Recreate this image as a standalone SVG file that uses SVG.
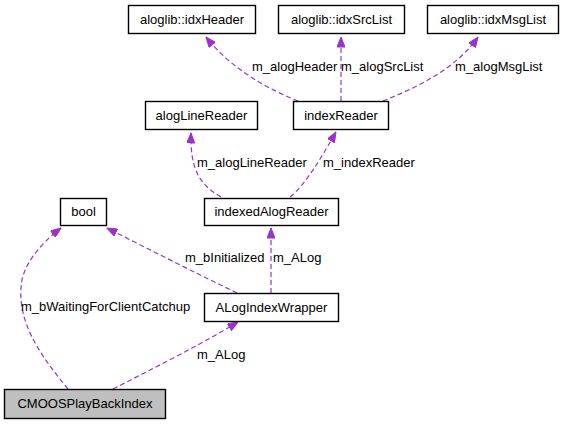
<svg xmlns="http://www.w3.org/2000/svg" width="564" height="424" viewBox="0 0 564 424">
<style>
.node rect{fill:#ffffff;stroke:#000000;stroke-width:1.4}
.node text{font-family:"Liberation Sans",Arial,sans-serif;font-size:13px;text-anchor:middle;fill:#000}
.edge{fill:none;stroke:#9a32cd;stroke-width:1.2;stroke-dasharray:5,3}
.lbl{font-family:"Liberation Sans",Arial,sans-serif;font-size:13px;fill:#000}
</style>
<defs>
<marker id="arr" viewBox="0 0 10 8" refX="10" refY="4" markerWidth="11" markerHeight="8" markerUnits="userSpaceOnUse" orient="auto">
<path d="M0,0 L10,4 L0,8 z" fill="#9a32cd" stroke="#9a32cd"/>
</marker>
</defs>
<rect width="564" height="424" fill="#ffffff"/>
<g id="connectors">
<path class="edge" marker-end="url(#arr)" d="M298,101 C270,90 232,70 206,37"/>
<path class="edge" marker-end="url(#arr)" d="M341,101 L341,37"/>
<path class="edge" marker-end="url(#arr)" d="M383,101 C415,88 455,70 478,37"/>
<path class="edge" marker-end="url(#arr)" d="M221,197 C200,185 190,170 191,133"/>
<path class="edge" marker-end="url(#arr)" d="M290,197 C305,185 320,160 336,132"/>
<path class="edge" marker-end="url(#arr)" d="M237,293 C200,275 150,250 107,228"/>
<path class="edge" marker-end="url(#arr)" d="M271,293 L271,228"/>
<path class="edge" marker-end="url(#arr)" d="M68,389 C40,355 15,320 22,280 C26,260 45,240 61,228"/>
<path class="edge" marker-end="url(#arr)" d="M113,389 C150,370 200,345 238,322"/>
<text class="lbl" x="252" y="71">m_alogHeader</text>
<text class="lbl" x="341" y="71">m_alogSrcList</text>
<text class="lbl" x="455" y="71">m_alogMsgList</text>
<text class="lbl" x="197" y="167">m_alogLineReader</text>
<text class="lbl" x="323" y="167">m_indexReader</text>
<text class="lbl" x="185" y="262">m_bInitialized</text>
<text class="lbl" x="273" y="262">m_ALog</text>
<text class="lbl" x="21" y="311">m_bWaitingForClientCatchup</text>
<text class="lbl" x="197" y="359">m_ALog</text>
</g>
<g id="node-idxHeader" class="node"><rect x="128.5" y="5.5" width="127" height="28"/><text x="192" y="24">aloglib::idxHeader</text></g>
<g id="node-idxSrcList" class="node"><rect x="278.5" y="5.5" width="126" height="28"/><text x="341.5" y="24">aloglib::idxSrcList</text></g>
<g id="node-idxMsgList" class="node"><rect x="427.5" y="5.5" width="131" height="28"/><text x="493" y="24">aloglib::idxMsgList</text></g>
<g id="node-alogLineReader" class="node"><rect x="145.5" y="101.5" width="112" height="28"/><text x="201.5" y="120">alogLineReader</text></g>
<g id="node-indexReader" class="node"><rect x="293.5" y="101.5" width="95" height="28"/><text x="341" y="120">indexReader</text></g>
<g id="node-bool" class="node"><rect x="60.5" y="198.5" width="46" height="27"/><text x="83.5" y="216">bool</text></g>
<g id="node-indexedAlogReader" class="node"><rect x="204.5" y="198.5" width="134" height="27"/><text x="271.5" y="216">indexedAlogReader</text></g>
<g id="node-ALogIndexWrapper" class="node"><rect x="204.5" y="293.5" width="134" height="28"/><text x="271.5" y="312">ALogIndexWrapper</text></g>
<g id="node-CMOOSPlayBackIndex" class="node"><rect x="4.5" y="389.5" width="161" height="29" style="fill:#bfbfbf"/><text x="85" y="408">CMOOSPlayBackIndex</text></g>
</svg>
